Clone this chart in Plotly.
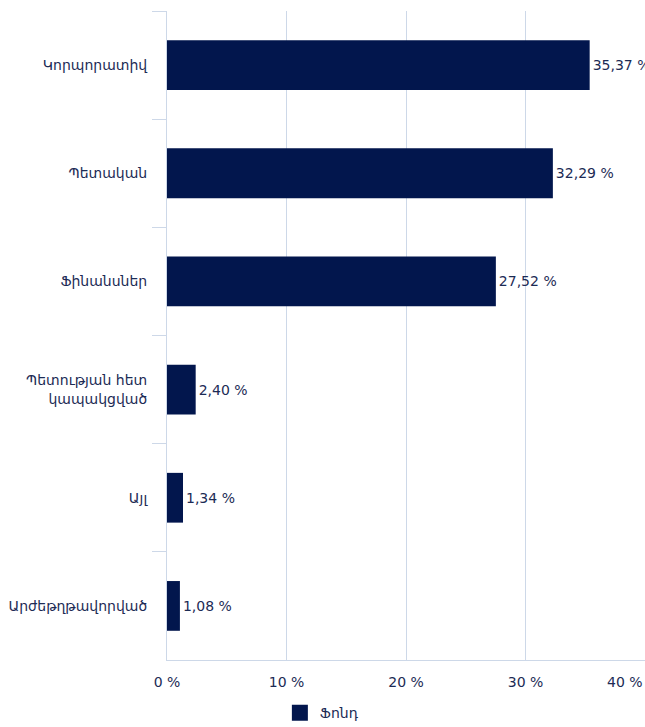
import plotly.graph_objects as go

categories = ["Կորպորատիվ", "Պետական", "Ֆինանսներ", "Պետության հետ<br>կապակցված", "Այլ", "Արժեթղթավորված"]
values = [35.37, 32.29, 27.52, 2.40, 1.34, 1.08]
labels = ["35,37 %", "32,29 %", "27,52 %", "2,40 %", "1,34 %", "1,08 %"]
tick_vals = [0, 10, 20, 30]
tick_text = ["0 %", "10 %", "20 %", "30 %"]
last_tick_text = "40 %"
series_name = "Ֆոնդ"

NAVY = "#02164d"
TXT = "#1c2b55"
GRID = "#cdd8e8"
FONT = "DejaVu Sans, Verdana, sans-serif"
FS = 14

fig = go.Figure()
fig.add_trace(go.Bar(
    x=values, y=categories, orientation="h", name=series_name,
    marker=dict(color=NAVY, line=dict(width=0)),
    text=labels, textposition="outside", cliponaxis=False,
    textfont=dict(color=TXT, size=FS, family=FONT),
    constraintext="none", width=0.46, showlegend=False,
))
# legend-only entry with a larger swatch
fig.add_trace(go.Scatter(
    x=[None], y=[categories[0]], mode="markers", name=series_name,
    marker=dict(symbol="square", size=17, color=NAVY), showlegend=True, hoverinfo="skip",
))

fig.update_layout(
    width=645, height=727,
    margin=dict(l=167, r=0, t=11, b=67, autoexpand=False),
    paper_bgcolor="white", plot_bgcolor="white",
    font=dict(family=FONT, size=FS, color=TXT),
    bargap=0.54,
    xaxis=dict(range=[0, 40], tickvals=tick_vals + [40], ticktext=tick_text + [""],
               automargin=False, ticklabelstandoff=9,
               showgrid=True, gridcolor=GRID, gridwidth=1, zeroline=False,
               showline=True, linecolor=GRID, linewidth=1, ticks="", ticklen=0,
               tickfont=dict(size=FS, color=TXT)),
    yaxis=dict(autorange="reversed", showgrid=False, showline=True, linecolor=GRID, linewidth=1,
               automargin=False, ticklabelstandoff=16,
               ticks="outside", tickson="boundaries", ticklen=14, tickcolor=GRID, tickwidth=1,
               tickfont=dict(size=FS, color=TXT), zeroline=False),
    legend=dict(orientation="h", x=0.324, xanchor="center", y=-0.082, yanchor="middle",
                font=dict(size=FS, color=TXT)),
    annotations=[dict(text=last_tick_text, xref="paper", yref="paper", x=1, y=0, xanchor="right",
                      yanchor="middle", yshift=-22, showarrow=False,
                      font=dict(size=FS, color=TXT, family=FONT))],
)

fig.write_html("out.html", config={"displayModeBar": False},
               post_script="document.body.style.margin='0';document.body.style.overflow='hidden';")
